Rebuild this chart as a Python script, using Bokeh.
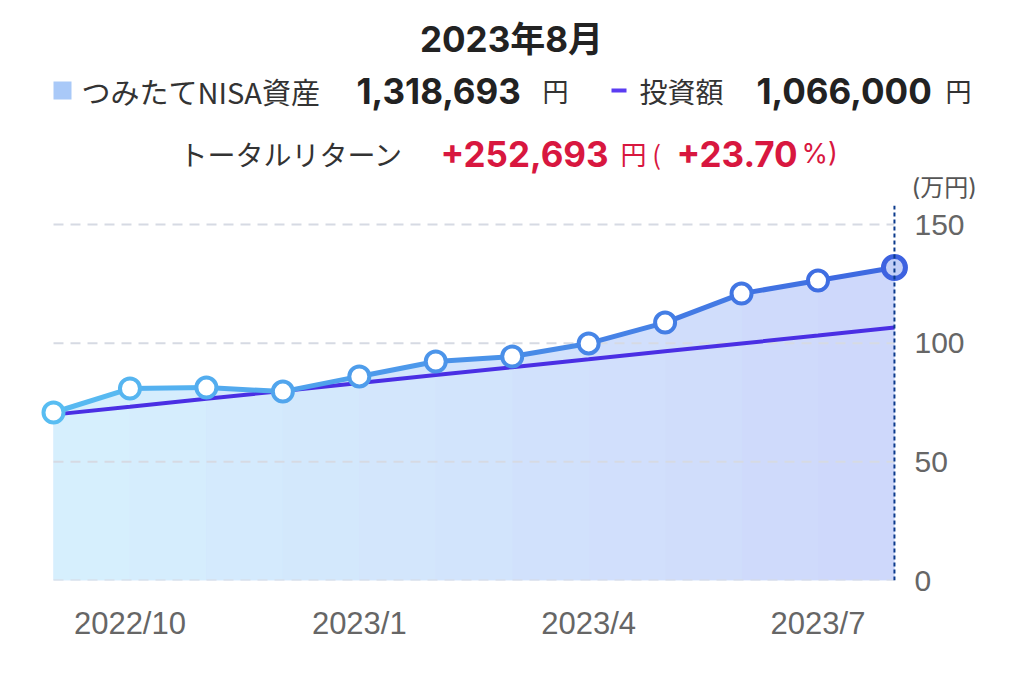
from bokeh.plotting import figure
from bokeh.models import Range1d, FixedTicker
from bokeh.core.properties import value
from bokeh.embed import file_html
from bokeh.resources import INLINE

# ---- data (万円) ----
months = ["2022/9", "2022/10", "2022/11", "2022/12", "2023/1", "2023/2",
          "2023/3", "2023/4", "2023/5", "2023/6", "2023/7", "2023/8"]
assets = [70.8, 80.9, 81.3, 79.6, 86.0, 92.3, 94.4, 99.9, 108.7, 120.9, 126.4, 131.9]
invested = [69.9, 73.2, 76.6, 79.9, 83.2, 86.6, 89.9, 93.2, 96.6, 99.9, 103.2, 106.6]
tick_pos = [1, 4, 7, 10]
tick_labels = ["2022/10", "2023/1", "2023/4", "2023/7"]
y_ticks = [0, 50, 100, 150]

title_text = "2023年8月"
asset_name = "つみたてNISA資産"
asset_total = "1,318,693"
invest_name = "投資額"
invest_total = "1,066,000"
return_name = "トータルリターン"
return_value = "+252,693"
return_pct = "+23.70"
unit_text = "(万円)"

JP = "Noto Sans CJK JP"
NUM = "Inter, Noto Sans CJK JP"
AX = "Liberation Sans"

W = 1008
HEAD_H = 205
TOTAL_H = 684

# ---------------- header (pixel coordinates, y down) ----------------
h = figure(width=W, height=HEAD_H, x_range=Range1d(0, W), y_range=Range1d(HEAD_H, 0),
           output_backend="svg", toolbar_location=None,
           x_axis_type=None, y_axis_type=None,
           min_border_left=0, min_border_right=0, min_border_top=0, min_border_bottom=0)
h.outline_line_color = None
h.grid.visible = False

def txt(t, x, y, size, color="#333333", font=JP, style="normal", align="left"):
    h.text(x=[x], y=[y], text=[t], text_font=value(font), text_font_size=size,
           text_color=color, text_font_style=style, text_align=align,
           text_baseline="middle")

txt(title_text, 511, 38, "35px", "#222222", font=NUM, style="bold", align="center")

h.rect(x=[62], y=[90], width=18, height=18, fill_color="#a9c9f8", line_color=None)
txt(asset_name, 81, 90, "29px", "#333333")
txt(asset_total, 356, 90, "35px", "#222222", font=NUM, style="bold")
txt("円", 542, 90, "26px", "#333333")

h.segment(x0=[611], x1=[626], y0=[90], y1=[90], line_color="#5b3cf2", line_width=4)
txt(invest_name, 639, 90, "28px", "#333333")
txt(invest_total, 756, 90, "35px", "#222222", font=NUM, style="bold")
txt("円", 945, 90, "26px", "#333333")

RED = "#d8173f"
txt(return_name, 179, 153, "28px", "#333333")
txt(return_value, 440, 153, "35px", RED, font=NUM, style="bold")
txt("円 (", 620, 153, "26px", RED)
txt(return_pct, 676, 153, "35px", RED, font=NUM, style="bold")
txt("%)", 801, 153, "27px", RED, font=NUM)

txt(unit_text, 911, 187, "24px", "#555555", font=NUM)

# ---------------- chart ----------------
PX_X0, PX_PER_M = 53.0, 76.45      # x pixel of first month, pixels per month
PX_Y0, PX_PER_U = 580.0, 2.373     # y pixel of 0, pixels per 万円
FRAME_R = 908
def X(px):
    return (px - PX_X0) / PX_PER_M
def Y(py):
    return (PX_Y0 - py) / PX_PER_U

CH_H = TOTAL_H - HEAD_H
xs = list(range(len(months)))
n = len(xs)

p = figure(width=W, height=CH_H,
           x_range=Range1d(X(0), X(FRAME_R)), y_range=Range1d(0, Y(HEAD_H)),
           output_backend="svg", toolbar_location=None,
           y_axis_location="right",
           min_border_left=0, min_border_right=W - FRAME_R,
           min_border_top=0, min_border_bottom=CH_H - (int(PX_Y0) - HEAD_H))
p.outline_line_color = None
p.grid.visible = False

def mix(c1, c2, t):
    a = [int(c1[i:i + 2], 16) for i in (1, 3, 5)]
    b = [int(c2[i:i + 2], 16) for i in (1, 3, 5)]
    return "#%02x%02x%02x" % tuple(round(a[k] + (b[k] - a[k]) * t) for k in range(3))

AREA_L, AREA_R = "#d6f0fd", "#ced7fb"
LINE_L, LINE_R = "#58bdf2", "#3d66e0"

# area (stepwise gradient)
p.varea(x=xs, y1=[0] * n, y2=assets, fill_color=mix(AREA_L, AREA_R, 0.5))
for i in range(n - 1):
    c = mix(AREA_L, AREA_R, (i + 0.5) / (n - 1))
    p.varea(x=xs[i:i + 2], y1=[0, 0], y2=assets[i:i + 2], fill_color=c)

# grid lines
p.segment(x0=[xs[0]] * len(y_ticks), x1=[xs[-1]] * len(y_ticks),
          y0=y_ticks, y1=y_ticks, line_color="#d6dae3", line_width=2,
          line_dash="10 7")

# invested line
p.line(xs, invested, line_color="#4a2fe4", line_width=4)

# asset line (gradient segments)
seg_cols = [mix(LINE_L, LINE_R, (i + 0.5) / (n - 1)) for i in range(n - 1)]
p.segment(x0=xs[:-1], y0=assets[:-1], x1=xs[1:], y1=assets[1:],
          line_color=seg_cols, line_width=5)

# markers
mk_cols = [mix(LINE_L, LINE_R, i / (n - 1)) for i in range(n)]
p.scatter(xs[:-1], assets[:-1], size=20, fill_color="white",
          line_color=mk_cols[:-1], line_width=4)
p.scatter(xs[-1:], assets[-1:], size=22, fill_color="#c3cff7",
          line_color="#3d62e0", line_width=5)

# vertical cursor line
p.segment(x0=[xs[-1]], x1=[xs[-1]], y0=[0], y1=[Y(HEAD_H)],
          line_color="#0b3a8c", line_width=2, line_dash="4 3")

# axes
xa = p.xaxis[0]
xa.ticker = FixedTicker(ticks=tick_pos)
xa.major_label_overrides = {t: l for t, l in zip(tick_pos, tick_labels)}
xa.axis_line_color = None
xa.major_tick_line_color = None
xa.minor_tick_line_color = None
xa.major_label_text_font = AX
xa.major_label_text_font_size = "31px"
xa.major_label_text_color = "#666666"
xa.major_label_standoff = 19

ya = p.yaxis[0]
ya.ticker = FixedTicker(ticks=y_ticks)
ya.axis_line_color = None
ya.major_tick_line_color = None
ya.minor_tick_line_color = None
ya.major_label_text_font = AX
ya.major_label_text_font_size = "30px"
ya.major_label_text_color = "#666666"
ya.major_label_standoff = 0

open("out.html", "w").write(file_html([h, p], INLINE))
